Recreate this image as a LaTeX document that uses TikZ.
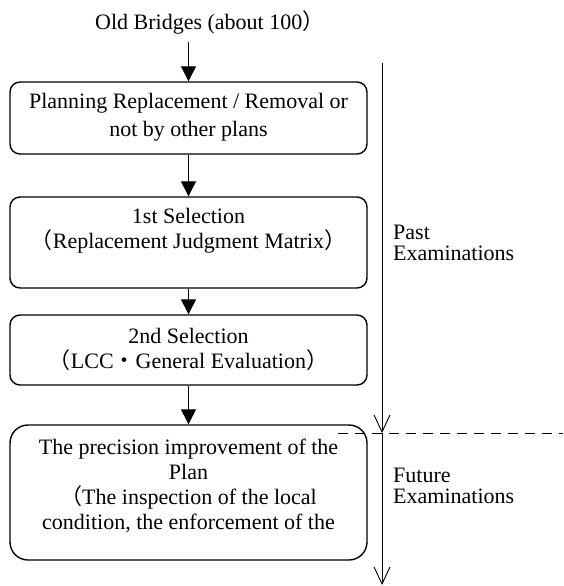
\documentclass[tikz,border=0pt]{standalone}
\usepackage{fontspec}
\setmainfont{Liberation Serif}
\newfontfamily\cjk{Noto Sans CJK JP}
\usetikzlibrary{arrows.meta}
\begin{document}
\begin{tikzpicture}[x=1pt,y=-1pt,
  every node/.style={font=\fontsize{22}{25}\selectfont, inner sep=0pt},
  boxsty/.style={draw, line width=1.4pt, minimum width=357pt, rounded corners=10pt},
  flow/.style={line width=1.3pt, -{Triangle[length=15pt,width=15pt]}},
  timeline/.style={line width=0.9pt, -{Straight Barb[length=17pt,width=16pt,line width=0.9pt]}},
  side/.style={anchor=west, align=left, font=\fontsize{22}{21}\selectfont}]
\path[use as bounding box] (0,0) rectangle (563,586);

\node[anchor=base west] (title) at (95,30) {Old Bridges (about 100{\cjk ）}};
\node[boxsty, minimum height=72pt] (b1) at (188.5,118) {};
\node[boxsty, minimum height=91pt] (b2) at (188.5,242.5) {};
\node[boxsty, minimum height=70pt] (b3) at (188.5,350) {};
\node[boxsty, minimum height=135pt, rounded corners=18pt] (b4) at (188.5,492.5) {};

\node[align=center, font=\fontsize{22}{28}\selectfont] (t1) at (188.5,117) {Planning Replacement / Removal or\\not by other plans};
\node[align=center] (t2) at (188.5,230.5) {1st Selection\\{\cjk （}Replacement Judgment Matrix{\cjk ）}};
\node[align=center] (t3) at (188.5,349.5) {2nd Selection\\{\cjk （}LCC{\cjk ・}General Evaluation{\cjk ）}};
\node[align=center] (t4) at (188.5,485.5) {The precision improvement of the\\Plan\\{\cjk （}The inspection of the local\\condition, the enforcement of the};

\coordinate (a0) at (188.5,42);
\draw[flow] (a0) -- (b1.north);
\draw[flow] (b1.south) -- (b2.north);
\draw[flow] (b2.south) -- (b3.north);
\draw[flow] (b3.south) -- (b4.north);

\coordinate (rtop) at (382,63);
\coordinate (rmid) at (382,433);
\coordinate (rbot) at (382,585);
\draw[timeline] (rtop) -- (rmid);
\draw[timeline] (rmid) -- (rbot);

\coordinate (dl) at (338,433);
\coordinate (dr) at (563,433);
\draw[line width=0.9pt, dash pattern=on 10pt off 7pt] (dl) -- (dr);

\node[side] (past) at (393,242.5) {Past\\Examinations};
\node[side] (future) at (393,486) {Future\\Examinations};
\end{tikzpicture}
\end{document}
